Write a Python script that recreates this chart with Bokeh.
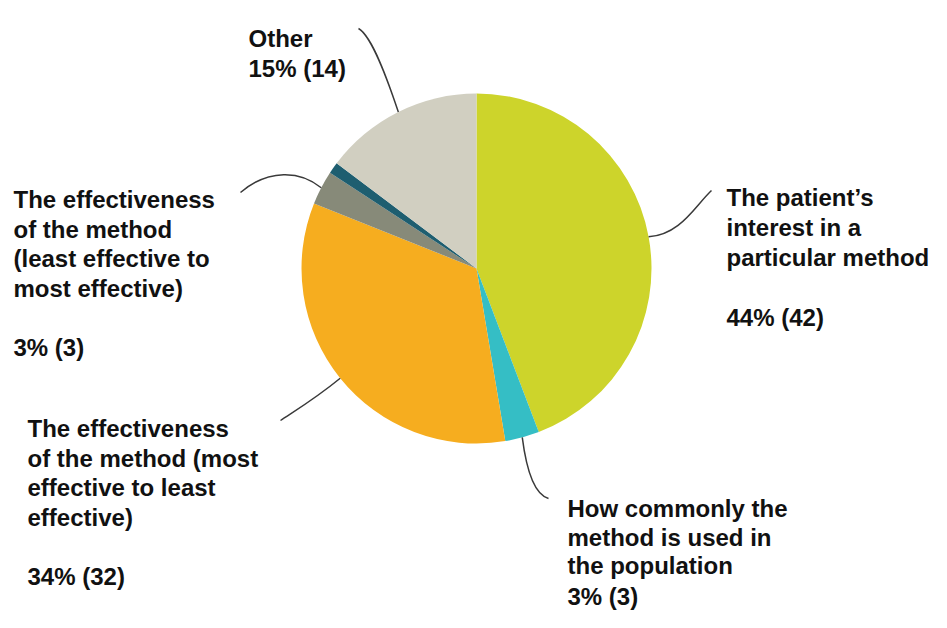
import math
from bokeh.plotting import figure
from bokeh.models import Range1d
from bokeh.embed import file_html
from bokeh.resources import INLINE
from bokeh.core.properties import value

# ---------------- data ----------------
categories = [
    "The patient’s interest in a particular method",
    "How commonly the method is used in the population",
    "The effectiveness of the method (most effective to least effective)",
    "The effectiveness of the method (least effective to most effective)",
    "Unlabelled",
    "Other",
]
counts = [42, 3, 32, 3, 1, 14]
label_lines = [
    ["The patient’s", "interest in a", "particular method"],
    ["How commonly the", "method is used in", "the population"],
    ["The effectiveness", "of the method (most", "effective to least", "effective)"],
    ["The effectiveness", "of the method", "(least effective to", "most effective)"],
    [],
    ["Other"],
]
colors = ["#CDD42B", "#35BEC5", "#F6AD1F", "#878A79", "#1E5E70", "#D1CFC1"]

# ---------------- layout (picture pixel coords) ----------------
W, H = 931, 612
def px(X):
    return X
def py(Y):
    return H - Y

CX, CY, R = px(476), py(268), 175
FS = "24px"

# per label: text x, first baseline, line height, blank gap before value?, leader (end, ctrl0, ctrl1)
label_layout = [
    dict(x=726, y=197, lh=30.0, gap=True, end=(711, 190), c0=(680, 234), c1=(694, 206)),
    dict(x=567, y=508, lh=28.5, gap=True, end=(548, 498), c0=(526, 470), c1=(534, 494)),
    dict(x=27, y=428, lh=29.5, gap=True, end=(280, 420), c0=(315, 398), c1=(295, 410)),
    dict(x=13, y=199, lh=29.5, gap=True, end=(240, 192), c0=(300, 170), c1=(268, 168)),
    None,
    dict(x=248, y=38, lh=29.5, gap=False, end=(358, 28), c0=(388, 82), c1=(372, 36)),
]

total = sum(counts)

p = figure(width=W, height=H, x_range=Range1d(0, W), y_range=Range1d(0, H),
           output_backend="svg", toolbar_location=None, min_border=0)
p.axis.visible = False
p.grid.visible = False
p.outline_line_color = None
p.background_fill_color = "white"
p.border_fill_color = "white"

cum = 0
for i, c in enumerate(counts):
    f0 = cum / total
    f1 = (cum + c) / total
    cum += c
    start = math.pi / 2 - f1 * 2 * math.pi
    end = math.pi / 2 - f0 * 2 * math.pi
    p.wedge(x=CX, y=CY, radius=R, start_angle=start, end_angle=end,
            fill_color=colors[i], line_color=None)

    lay = label_layout[i]
    if lay is None:
        continue
    mid = (f0 + f1) / 2 * 2 * math.pi  # clockwise from top
    sx = CX + R * math.sin(mid)
    sy = CY + R * math.cos(mid)
    ex, ey = px(lay["end"][0]), py(lay["end"][1])
    p.bezier(x0=sx, y0=sy, x1=ex, y1=ey,
             cx0=px(lay["c0"][0]), cy0=py(lay["c0"][1]),
             cx1=px(lay["c1"][0]), cy1=py(lay["c1"][1]),
             line_color="#3a3a3a", line_width=1.5)

    pct = round(c / total * 100)
    lines = list(label_lines[i])
    if lay["gap"]:
        lines += ["", f"{pct}% ({c})"]
    else:
        lines += [f"{pct}% ({c})"]
    for k, t in enumerate(lines):
        if not t:
            continue
        yb = lay["y"] + k * lay["lh"]
        yb = min(yb, H - 16)
        p.text(x=[px(lay["x"])], y=[py(yb)], text=[t],
               text_font=value("Liberation Sans"), text_font_style="bold",
               text_font_size=FS, text_color="#111111",
               text_baseline="alphabetic", text_align="left")

open("out.html", "w").write(file_html(p, INLINE))
